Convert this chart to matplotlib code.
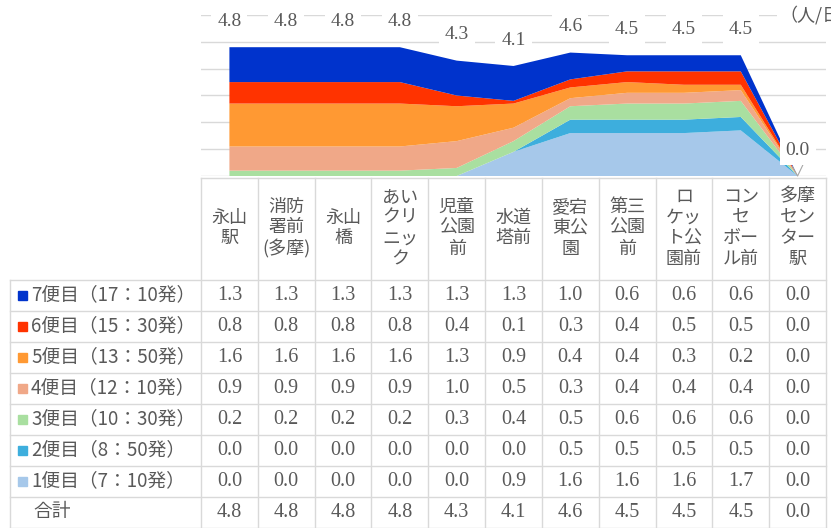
import numpy as np
import matplotlib
matplotlib.use('Agg')
import matplotlib.pyplot as plt
from matplotlib.patches import Rectangle

plt.rcParams['font.family'] = ['Noto Sans CJK JP', 'DejaVu Sans']

# ── データ ──
stations = ['永山\n駅', '消防\n署前\n(多摩)', '永山\n橋', 'あい\nクリ\nニッ\nク', '児童\n公園\n前',
            '水道\n塔前', '愛宕\n東公\n園', '第三\n公園\n前', 'ロ\nケッ\nト公\n園前',
            'コン\nセ\nボー\nル前', '多摩\nセン\nター\n駅']
series_names = ['7便目（17：10発）', '6便目（15：30発）', '5便目（13：50発）', '4便目（12：10発）',
                '3便目（10：30発）', '2便目（8：50発）', '1便目（7：10発）']
bin7 = [1.3, 1.3, 1.3, 1.3, 1.3, 1.3, 1.0, 0.6, 0.6, 0.6, 0.0]
bin6 = [0.8, 0.8, 0.8, 0.8, 0.4, 0.1, 0.3, 0.4, 0.5, 0.5, 0.0]
bin5 = [1.6, 1.6, 1.6, 1.6, 1.3, 0.9, 0.4, 0.4, 0.3, 0.2, 0.0]
bin4 = [0.9, 0.9, 0.9, 0.9, 1.0, 0.5, 0.3, 0.4, 0.4, 0.4, 0.0]
bin3 = [0.2, 0.2, 0.2, 0.2, 0.3, 0.4, 0.5, 0.6, 0.6, 0.6, 0.0]
bin2 = [0.0, 0.0, 0.0, 0.0, 0.0, 0.0, 0.5, 0.5, 0.5, 0.5, 0.0]
bin1 = [0.0, 0.0, 0.0, 0.0, 0.0, 0.9, 1.6, 1.6, 1.6, 1.7, 0.0]
total = [4.8, 4.8, 4.8, 4.8, 4.3, 4.1, 4.6, 4.5, 4.5, 4.5, 0.0]

rows = [bin7, bin6, bin5, bin4, bin3, bin2, bin1]
colors = ['#0033CC', '#FF3300', '#FF9933', '#F0A888', '#A9DFA0', '#3DAEDD', '#A6C8EA']

TXT = '#595959'
GRID = '#D9D9D9'
NUMFONT = ['Liberation Serif', 'DejaVu Serif']

W, H = 831, 528
fig = plt.figure(figsize=(W / 100, H / 100), dpi=100)
fig.patch.set_facecolor('white')

# ── 面グラフ ──
left, right, top, base = 201, 826, 15, 176
ax = fig.add_axes([left / W, 1 - base / H, (right - left) / W, (base - top) / H])
x = np.arange(len(stations))
ax.stackplot(x, bin1, bin2, bin3, bin4, bin5, bin6, bin7, colors=colors[::-1], lw=0, zorder=2)
ax.set_xlim(-0.5, len(stations) - 0.5)
ax.set_ylim(0, 6)
ax.set_yticks(range(7))
ax.set_xticks([])
ax.yaxis.grid(True, color=GRID, lw=1)
ax.tick_params(left=False, labelleft=False)
for s in ax.spines.values():
    s.set_visible(False)
for xi, t in zip(x, total):
    ax.annotate(f'{t:.1f}', (xi, t), xytext=(0, 18.5), textcoords='offset points',
                ha='center', va='center', fontsize=14, color=TXT, family=NUMFONT,
                bbox=dict(boxstyle='square,pad=0.3', fc='white', ec='none'), zorder=5)
# ラベルの引き出し線
ax.plot([x[-1] - 0.09, x[-1], x[-1] + 0.09], [0.35, 0.0, 0.4], color='#A6A6A6', lw=0.8,
        zorder=4, clip_on=False)
fig.text(779 / W, 1 - 15 / H, '（人/日）', ha='left', va='center', fontsize=13, color=TXT,
         bbox=dict(boxstyle='square,pad=0.1', fc='white', ec='none'))

# ── データテーブル ──
tb = fig.add_axes([0, 0, 1, 1], zorder=-1)
tb.set_xlim(0, W)
tb.set_ylim(H, 0)
tb.axis('off')

col_w = (right - left) / len(stations)
col_edges = [left + i * col_w for i in range(len(stations) + 1)]
head_top, head_bot, row_h = 178, 280, 31
row_edges = [head_bot + k * row_h for k in range(len(rows) + 2)]

tb.plot([left, right], [head_top, head_top], color=GRID, lw=1)
for xe in col_edges:
    tb.plot([xe, xe], [head_top, row_edges[-1]], color=GRID, lw=1)
for ye in row_edges:
    tb.plot([10, right], [ye, ye], color=GRID, lw=1)
tb.plot([10, 10], [head_bot, row_edges[-1]], color=GRID, lw=1)

for i, name in enumerate(stations):
    cx = left + (i + 0.5) * col_w
    tb.text(cx, 228, name, ha='center', va='center', fontsize=13, color=TXT, linespacing=1.2)

labels = series_names + ['合計']
values = rows + [total]
for k, (lab, vals) in enumerate(zip(labels, values)):
    cy = head_bot + (k + 0.5) * row_h
    if k < len(rows):
        tb.add_patch(Rectangle((18, cy - 5), 9, 9, color=colors[k]))
    tb.text(31 if k < len(rows) else 33, cy - 1, lab, ha='left', va='center', fontsize=13.5, color=TXT)
    for i, v in enumerate(vals):
        cx = left + (i + 0.5) * col_w
        tb.text(cx, cy, f'{v:.1f}', ha='center', va='center', fontsize=14.5, color=TXT, family=NUMFONT)

fig.savefig('out.png', dpi=100, facecolor='white')
